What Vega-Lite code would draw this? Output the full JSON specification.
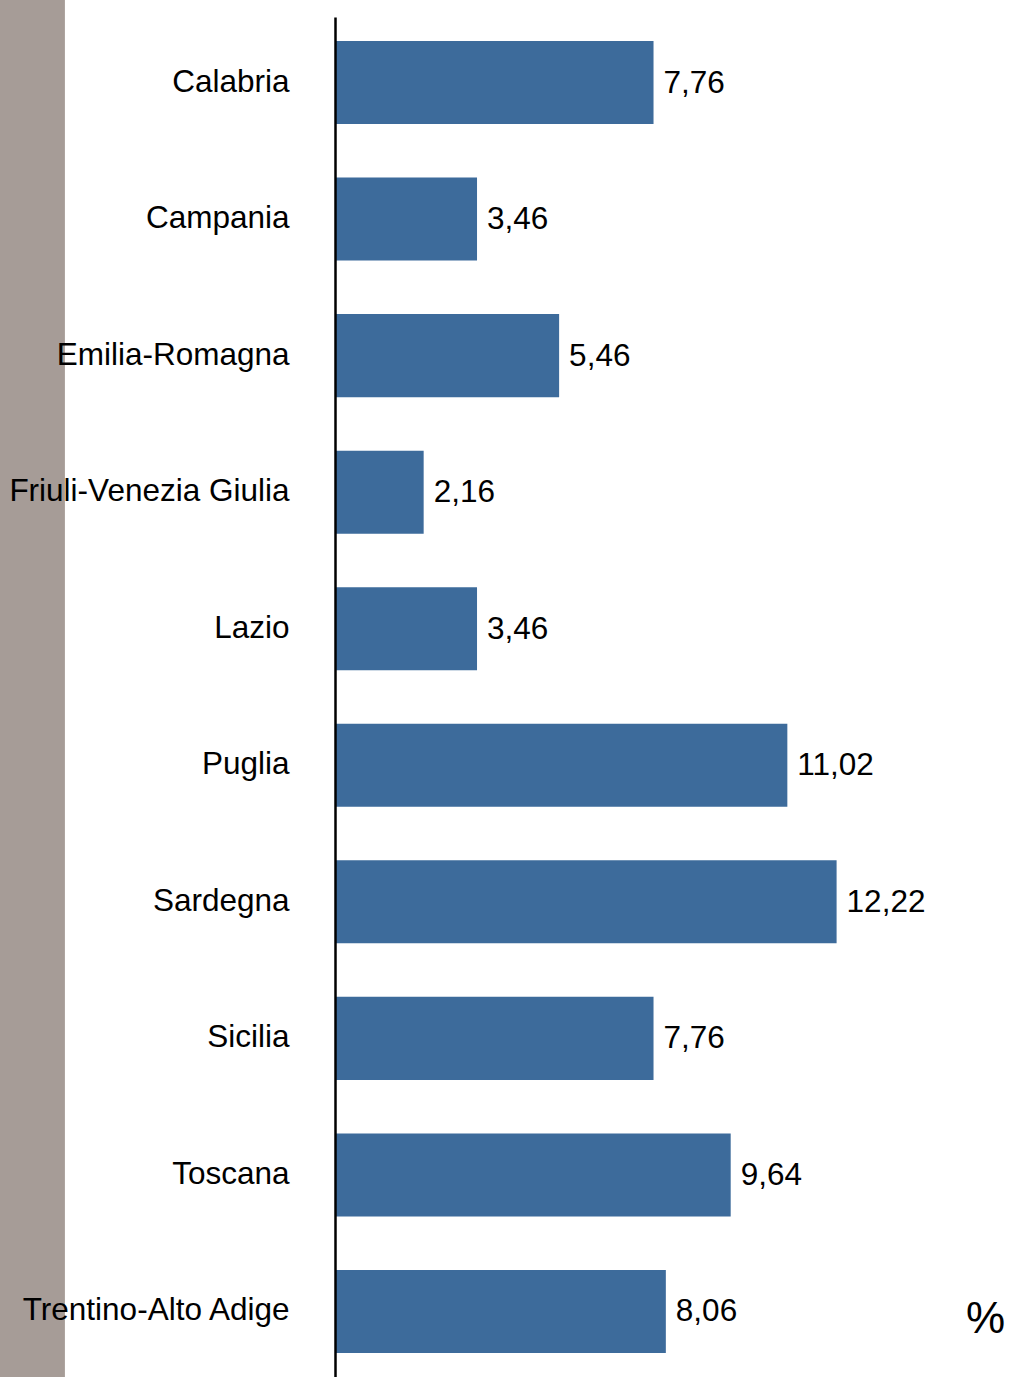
{
  "$schema": "https://vega.github.io/schema/vega-lite/v6.json",
  "width": 674,
  "height": 1360,
  "autosize": {"type": "none"},
  "padding": {"left": 335, "top": 17, "right": 0, "bottom": 0},
  "background": "white",
  "config": {"view": {"stroke": null}, "font": "Liberation Sans"},
  "data": {"values": [
    {"region": "Calabria", "value": 7.76, "label": "7,76"},
    {"region": "Campania", "value": 3.46, "label": "3,46"},
    {"region": "Emilia-Romagna", "value": 5.46, "label": "5,46"},
    {"region": "Friuli-Venezia Giulia", "value": 2.16, "label": "2,16"},
    {"region": "Lazio", "value": 3.46, "label": "3,46"},
    {"region": "Puglia", "value": 11.02, "label": "11,02"},
    {"region": "Sardegna", "value": 12.22, "label": "12,22"},
    {"region": "Sicilia", "value": 7.76, "label": "7,76"},
    {"region": "Toscana", "value": 9.64, "label": "9,64"},
    {"region": "Trentino-Alto Adige", "value": 8.06, "label": "8,06"}
  ]},
  "resolve": {"scale": {"y": "independent"}, "axis": {"y": "independent"}},
  "layer": [
    {
      "data": {"values": [{"x1": -8.17, "x2": -6.58, "y1": 0, "y2": 1.0125}]},
      "mark": {"type": "rect", "color": "#a69c97"},
      "encoding": {
        "x": {"field": "x1", "type": "quantitative", "scale": {"domain": [0, 16.42], "nice": false, "zero": false}},
        "x2": {"field": "x2"},
        "y": {"field": "y1", "type": "quantitative", "scale": {"domain": [0, 1], "nice": false}, "axis": null},
        "y2": {"field": "y2"}
      }
    },
    {
      "layer": [
        {
          "mark": {"type": "bar", "color": "#3d6b9b"},
          "encoding": {
            "y": {
              "field": "region", "type": "nominal", "sort": null,
              "scale": {"paddingInner": 0.392, "paddingOuter": 0.176},
              "axis": {"title": null, "ticks": false, "labelPadding": 46, "labelLimit": 500, "labelFontSize": 31.5, "labelColor": "black", "labelFont": "Liberation Sans", "domainColor": "black", "domainWidth": 2.5, "zindex": 1}
            },
            "x": {"field": "value", "type": "quantitative", "scale": {"domain": [0, 16.42], "nice": false, "zero": false}, "axis": null}
          }
        },
        {
          "mark": {"type": "text", "align": "left", "baseline": "middle", "dx": 10, "dy": 1, "fontSize": 31.5, "color": "black"},
          "encoding": {
            "y": {"field": "region", "type": "nominal", "sort": null},
            "x": {"field": "value", "type": "quantitative"},
            "text": {"field": "label"}
          }
        },
        {
          "mark": {"type": "text", "align": "center", "baseline": "middle", "dy": 9, "fontSize": 44, "color": "black"},
          "encoding": {
            "y": {"field": "region", "type": "nominal", "sort": null},
            "x": {"datum": 15.85, "type": "quantitative"},
            "text": {"condition": {"test": "datum.region === 'Trentino-Alto Adige'", "value": "%"}, "value": ""}
          }
        }
      ]
    }
  ]
}
